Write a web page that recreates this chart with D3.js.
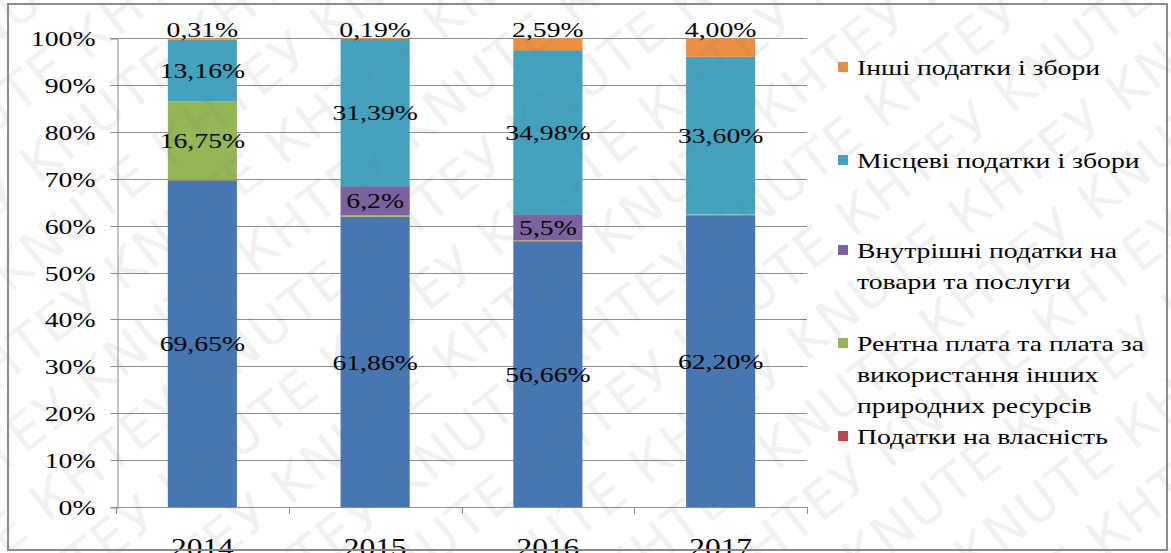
<!DOCTYPE html>
<html>
<head>
<meta charset="utf-8">
<script src="https://cdn.jsdelivr.net/npm/d3@7"></script>
<style>
  html, body { margin: 0; padding: 0; background: #fff; }
  svg { display: block; }
  .serif, .serif text { font-family: "Liberation Serif", "Times New Roman", "DejaVu Serif", serif; }
</style>
</head>
<body>
<svg id="chart" width="1171" height="553"></svg>
<script>
// Structure of tax revenues by year (shares, %)
const years = ["2014", "2015", "2016", "2017"];

const incomeTax   = [69.65, 61.86, 56.66, 62.20];   // податки на доходи
const propertyTax = [0.13, 0.05, 0.17, 0.05];       // податки на власність
const rentTax     = [16.75, 0.31, 0.10, 0.15];      // рентна плата
const domesticTax = [0.00, 6.20, 5.50, 0.00];       // внутрішні податки
const localTax    = [13.16, 31.39, 34.98, 33.60];   // місцеві податки
const otherTax    = [0.31, 0.19, 2.59, 4.00];       // інші податки

// printed labels (null = no label)
const incomeLabels   = ["69,65%", "61,86%", "56,66%", "62,20%"];
const rentLabels     = ["16,75%", null, null, null];
const domesticLabels = [null, "6,2%", "5,5%", null];
const localLabels    = ["13,16%", "31,39%", "34,98%", "33,60%"];
const otherLabels    = ["0,31%", "0,19%", "2,59%", "4,00%"];

const yTicks = [0, 10, 20, 30, 40, 50, 60, 70, 80, 90, 100];

const seriesKeys = ["income", "property", "rent", "domestic", "local", "other"];
const colors = {
  income: "#4677b2",
  property: "#be4b48",
  rent: "#94b655",
  domestic: "#7d62a0",
  local: "#43a3bf",
  other: "#ec8f40"
};

const legendItems = [
  { key: "other",    lines: ["Інші податки і збори"] },
  { key: "local",    lines: ["Місцеві податки і збори"] },
  { key: "domestic", lines: ["Внутрішні податки на", "товари та послуги"] },
  { key: "rent",     lines: ["Рентна плата та плата за", "використання інших", "природних ресурсів"] },
  { key: "property", lines: ["Податки на власність"] }
];
const legendRowY = [67, 160, 250, 343, 436];

const table = years.map((y, i) => ({
  year: y,
  income: incomeTax[i], property: propertyTax[i], rent: rentTax[i],
  domestic: domesticTax[i], local: localTax[i], other: otherTax[i]
}));
const labelSets = {
  income: incomeLabels, rent: rentLabels, domestic: domesticLabels,
  local: localLabels
};

// the typeface is set wide: stretch glyphs horizontally around their anchor
const STRETCH = 1.26;
function placeText(sel, px, py) {
  sel.attr("x", 0).attr("y", 0)
     .attr("transform", `translate(${px},${py}) scale(${STRETCH},1)`);
  return sel;
}

const svg = d3.select("#chart");

const x = d3.scaleBand().domain(years).range([116, 807]).paddingInner(0.6).paddingOuter(0.3);
const y = d3.scaleLinear().domain([0, 100]).range([507, 38]);

// gridlines
svg.append("g")
  .selectAll("line")
  .data(yTicks.filter(t => t > 0))
  .join("line")
  .attr("x1", 117).attr("x2", 807)
  .attr("y1", d => Math.round(y(d)) + 0.5).attr("y2", d => Math.round(y(d)) + 0.5)
  .attr("stroke", "#8c8c8c").attr("stroke-width", 1);

// y axis
const yAxis = svg.append("g")
  .attr("class", "serif")
  .attr("transform", "translate(117.5,0.5)")
  .call(d3.axisLeft(y).tickValues(yTicks).tickFormat(d => d + "%").tickSize(7).tickPadding(15));
yAxis.attr("font-family", null);
yAxis.select(".domain").attr("stroke", "#8c8c8c");
yAxis.selectAll(".tick line").attr("stroke", "#8c8c8c");
yAxis.selectAll(".tick").attr("transform", d => `translate(0,${Math.round(y(d))})`);
yAxis.selectAll(".tick text")
  .attr("font-size", 22).attr("fill", "#000")
  .attr("dy", "0.33em")
  .each(function () { placeText(d3.select(this), -22, 0); });

// stacked bars
const stack = d3.stack().keys(seriesKeys);
const layers = stack(table);

svg.append("g")
  .selectAll("g")
  .data(layers)
  .join("g")
  .attr("fill", d => colors[d.key])
  .selectAll("rect")
  .data(d => d)
  .join("rect")
  .attr("x", d => x(d.data.year))
  .attr("width", x.bandwidth())
  .attr("y", d => y(d[1]))
  .attr("height", d => Math.max(0, y(d[0]) - y(d[1])));

// x axis
const xb = d3.scaleLinear().domain([0, years.length]).range([116, 807]);
const xAxisG = svg.append("g").attr("class", "serif");
xAxisG.append("line")
  .attr("x1", 117).attr("x2", 807)
  .attr("y1", 507.5).attr("y2", 507.5)
  .attr("stroke", "#8c8c8c");
xAxisG.selectAll("line.tk")
  .data(d3.range(years.length + 1))
  .join("line")
  .attr("class", "tk")
  .attr("x1", d => Math.round(xb(d)) + 0.5).attr("x2", d => Math.round(xb(d)) + 0.5)
  .attr("y1", 507).attr("y2", 514)
  .attr("stroke", "#8c8c8c");
xAxisG.selectAll("text")
  .data(years)
  .join("text")
  .attr("text-anchor", "middle")
  .attr("font-size", 25)
  .text(d => d)
  .each(function (d) { placeText(d3.select(this), x(d) + x.bandwidth() / 2, 556); });

// data labels inside segments
const labelG = svg.append("g")
  .attr("class", "serif")
  .attr("font-size", 22).attr("text-anchor", "middle");
layers.forEach(layer => {
  const labels = labelSets[layer.key];
  if (!labels) return;
  layer.forEach((seg, i) => {
    if (!labels[i]) return;
    placeText(labelG.append("text").attr("dy", "0.35em").text(labels[i]),
      x(seg.data.year) + x.bandwidth() / 2, y((seg[0] + seg[1]) / 2));
  });
});
// labels of the top series sit above the 100% line
layers.find(l => l.key === "other").forEach((seg, i) => {
  placeText(labelG.append("text").text(otherLabels[i]),
    x(seg.data.year) + x.bandwidth() / 2, y(100) - 1);
});

// legend
const lg = svg.append("g").attr("class", "serif").attr("font-size", 22);
legendItems.forEach((item, i) => {
  const cy = legendRowY[i];
  lg.append("rect")
    .attr("x", 838).attr("y", cy - 5)
    .attr("width", 10).attr("height", 10)
    .attr("fill", colors[item.key]);
  item.lines.forEach((line, j) => {
    placeText(lg.append("text").attr("dy", "0.35em").text(line), 857, cy + j * 31);
  });
});

// diagonal watermark
const wm = svg.append("g")
  .attr("font-family", "'DejaVu Sans', sans-serif")
  .attr("font-size", 52)
  .attr("fill", "#7a7a7a")
  .attr("fill-opacity", 0.1)
  .attr("transform", "rotate(-38 585 276)");
for (let r = -9; r <= 9; r++) {
  wm.append("text")
    .attr("x", -600 + (r % 2) * 90)
    .attr("y", 276 + r * 68)
    .attr("letter-spacing", 2)
    .text("KNUTE КНТЕУ ".repeat(14));
}

// outer frame
svg.append("rect")
  .attr("x", 8).attr("y", 4)
  .attr("width", 1159).attr("height", 546)
  .attr("fill", "none")
  .attr("stroke", "#8a8a8a").attr("stroke-width", 2);
</script>
</body>
</html>
